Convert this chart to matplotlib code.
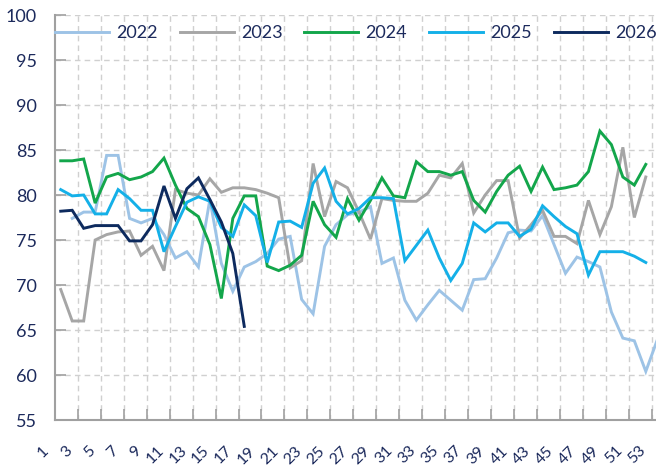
import matplotlib.pyplot as plt
import matplotlib.transforms as mtransforms
import numpy as np

nan = np.nan

weeks = list(range(1, 54))

y2022 = [nan, 77.4, 78.1, 78.1, 84.4, 84.4, 77.4, 76.9, 77.4, 75.6,
         73.0, 73.7, 72.0, 79.5, 72.4, 69.3, 72.0, 72.6, 73.5, 75.1,
         75.4, 68.4, 66.8, 74.3, 76.7, 77.8, 78.1, 78.7, 72.4, 73.0,
         68.3, 66.1, 67.8, 69.4, 68.3, 67.2, 70.6, 70.7, 73.0, 75.8,
         76.1, 76.0, 77.7, 74.5, 71.3, 73.1, 72.6, 72.0, 67.0, 64.1,
         63.8, 60.4, 63.9]

y2023 = [69.5, 66.0, 66.0, 75.0, 75.6, 75.9, 76.0, 73.3, 74.3, 71.6,
         80.6, 80.2, 80.0, 81.8, 80.3, 80.8, 80.8, 80.6, 80.2, 79.7,
         71.9, 72.7, 83.5, 77.6, 81.5, 80.8, 78.1, 75.1, 79.6, 79.4,
         79.3, 79.3, 80.2, 82.2, 81.9, 83.5, 78.0, 80.0, 81.6, 81.6,
         75.2, 76.7, 78.3, 75.4, 75.4, 74.6, 79.4, 75.6, 78.7, 85.3,
         77.5, 82.0, nan]

y2024 = [83.8, 83.8, 84.0, 79.1, 82.0, 82.4, 81.7, 82.0, 82.6, 84.1,
         81.1, 78.5, 77.6, 74.5, 68.5, 77.4, 79.9, 79.9, 72.1, 71.6,
         72.2, 73.3, 79.3, 76.7, 75.3, 79.6, 77.2, 79.4, 81.9, 79.9,
         79.7, 83.7, 82.6, 82.6, 82.2, 82.6, 79.4, 78.1, 80.4, 82.2,
         83.2, 80.4, 83.1, 80.6, 80.8, 81.1, 82.6, 87.1, 85.6, 82.0,
         81.1, 83.4, nan]

y2025 = [80.6, 79.9, 80.0, 77.9, 77.9, 80.6, 79.6, 78.3, 78.3, 73.7,
         76.5, 79.2, 79.8, 79.3, 76.4, 75.4, 78.9, 77.7, 72.5, 77.0,
         77.1, 76.4, 81.3, 83.0, 79.3, 77.9, 78.5, 79.7, 79.7, 79.6,
         72.7, 74.4, 76.1, 73.0, 70.5, 72.4, 76.9, 75.9, 76.9, 76.9,
         75.4, 76.2, 78.8, 77.6, 76.5, 75.7, 71.1, 73.7, 73.7, 73.7,
         73.2, 72.5, nan]

y2026 = [78.2, 78.3, 76.3, 76.6, 76.6, 76.6, 74.9, 74.9, 76.7, 81.0,
         77.4, 80.7, 81.9, 79.5, 77.0, 73.5, 65.4] + [nan] * 36

series = [("2022", y2022, "#9dc3e6"),
          ("2023", y2023, "#a6a6a6"),
          ("2024", y2024, "#13a64b"),
          ("2025", y2025, "#14b0e8"),
          ("2026", y2026, "#0d2a5e")]

navy = "#1c2a5c"
plt.rcParams['font.family'] = ['Lato', 'DejaVu Sans']

fig = plt.figure(figsize=(6.56, 4.68), dpi=100)
# axes runs a bit past the right edge, like the cropped original
ax = fig.add_axes([55 / 656, 48 / 468, 608 / 656, 405 / 468])

for name, vals, col in series:
    ax.plot(weeks, vals, color=col, lw=2.1, label=name, solid_joinstyle="miter")

ax.set_xlim(0.5, 53.5)
ax.set_ylim(55, 100)

ax.set_yticks(range(55, 101, 5))
ax.set_xticks(range(1, 54, 2))
ax.set_xticks(np.arange(2.5, 53, 2), minor=True)

ax.grid(False)
ax.grid(True, which="minor", axis="x", color="#d0d0d0", ls=(0, (4, 3)), lw=1)
ax.grid(True, which="major", axis="y", color="#d0d0d0", ls=(0, (4, 3)), lw=1)

for s in ["top", "right"]:
    ax.spines[s].set_visible(False)
for s in ["left", "bottom"]:
    ax.spines[s].set_color("#a0a0a0")
    ax.spines[s].set_linewidth(1.5)

ax.tick_params(axis="y", direction="in", length=8, width=1.2, color="#a0a0a0",
               labelsize=13, labelcolor=navy, pad=13)
ax.tick_params(axis="x", which="major", length=0, labelsize=11.5,
               labelcolor=navy, pad=17)
ax.tick_params(axis="x", which="minor", direction="in", length=8, width=1.2,
               color="#a0a0a0")

offset = mtransforms.ScaledTranslation(-9 / 100, 0, fig.dpi_scale_trans)
for lab in ax.get_xticklabels():
    lab.set_rotation(45)
    lab.set_ha("right")
    lab.set_va("top")
    lab.set_transform(lab.get_transform() + offset)

leg = ax.legend(loc="center left", bbox_to_anchor=(55 / 656, 1 - 33 / 468),
                bbox_transform=fig.transFigure, ncol=5, frameon=False,
                fontsize=13, handlelength=3.0, handletextpad=0.4,
                columnspacing=1.2, borderpad=0, borderaxespad=0)
for t in leg.get_texts():
    t.set_color(navy)

fig.savefig("out.png", dpi=100)
